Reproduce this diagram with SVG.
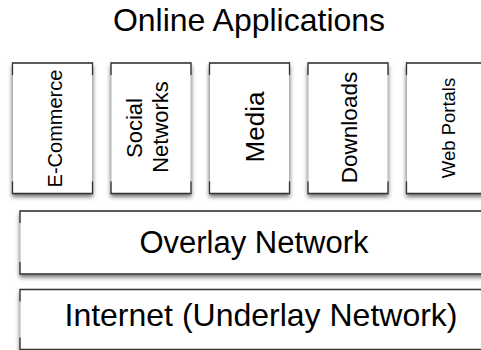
<svg xmlns="http://www.w3.org/2000/svg" width="481" height="350" viewBox="0 0 481 350">
<defs>
<filter id="sh" x="-10%" y="-10%" width="120%" height="130%">
<feDropShadow dx="0" dy="3" stdDeviation="2" flood-color="#000" flood-opacity="0.55"/>
</filter>
</defs>
<style>
.box{fill:#fff;stroke:#b0b0b0;stroke-width:1;filter:url(#sh)}
.edge{fill:none;stroke:#333;stroke-width:1.3}
text{font-family:"Liberation Sans",Arial,Helvetica,sans-serif;fill:#000}
.big{font-size:31px;text-anchor:middle}
.v{text-anchor:middle}
</style>
<rect width="481" height="350" fill="#fff"/>
<text class="big" x="249" y="31" style="font-size:32px">Online Applications</text>

<g id="ecommerce">
<rect class="box" x="12.5" y="63" width="80" height="130.5"/>
<path class="edge" d="M12.5,75V63H92.5V75M12.5,181.5V193.5H92.5V181.5"/>
<text class="v" font-size="20" transform="translate(61.5,128.5) rotate(-90)">E-Commerce</text>
</g>
<g id="social">
<rect class="box" x="111" y="63" width="80" height="130.5"/>
<path class="edge" d="M111,75V63H191V75M111,181.5V193.5H191V181.5"/>
<text class="v" font-size="22" transform="translate(141.5,128) rotate(-90)">Social</text>
<text class="v" font-size="22" transform="translate(168,127) rotate(-90)">Networks</text>
</g>
<g id="media">
<rect class="box" x="209.5" y="63" width="80" height="130.5"/>
<path class="edge" d="M209.5,75V63H289.5V75M209.5,181.5V193.5H289.5V181.5"/>
<text class="v" font-size="26" transform="translate(264,127) rotate(-90)">Media</text>
</g>
<g id="downloads">
<rect class="box" x="308" y="63" width="80" height="130.5"/>
<path class="edge" d="M308,75V63H388V75M308,181.5V193.5H388V181.5"/>
<text class="v" font-size="22.5" transform="translate(356.5,127.5) rotate(-90)">Downloads</text>
</g>
<g id="webportals">
<rect class="box" x="406.5" y="63" width="80" height="130.5"/>
<path class="edge" d="M406.5,75V63H486.5M406.5,181.5V193.5H486.5"/>
<text class="v" font-size="18.5" transform="translate(455,128) rotate(-90)">Web Portals</text>
</g>

<g id="overlay">
<rect class="box" x="20" y="211" width="480" height="63"/>
<path class="edge" d="M20,223V211H500M20,262V274H500"/>
<text class="big" x="254" y="253">Overlay Network</text>
</g>
<g id="internet">
<rect class="box" x="20" y="289.5" width="480" height="60"/>
<path class="edge" d="M20,301.5V289.5H500M20,337.5V349.5H500"/>
<text class="big" x="261" y="325.5" style="font-size:32px">Internet (Underlay Network)</text>
</g>
<g id="connectors"/>
</svg>
